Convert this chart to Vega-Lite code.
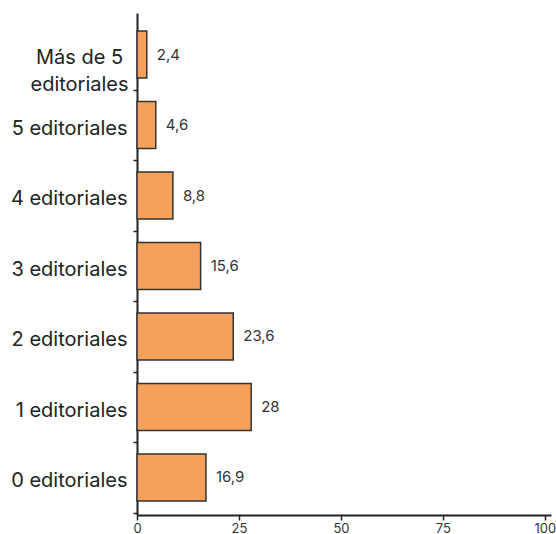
{
  "$schema": "https://vega.github.io/schema/vega-lite/v6.json",
  "autosize": "none",
  "width": 414,
  "height": 502,
  "padding": {"left": 137, "top": 13, "right": 5, "bottom": 19},
  "background": "white",
  "config": {
    "locale": {"number": {"decimal": ",", "thousands": ".", "grouping": [3], "currency": ["", "€"]}},
    "view": {"stroke": null},
    "font": "Inter"
  },
  "data": {
    "values": [
      {"cat": "Más de 5 editoriales", "value": 2.4},
      {"cat": "5 editoriales", "value": 4.6},
      {"cat": "4 editoriales", "value": 8.8},
      {"cat": "3 editoriales", "value": 15.6},
      {"cat": "2 editoriales", "value": 23.6},
      {"cat": "1 editoriales", "value": 28},
      {"cat": "0 editoriales", "value": 16.9}
    ]
  },
  "encoding": {
    "y": {
      "field": "cat",
      "type": "nominal",
      "sort": ["Más de 5 editoriales", "5 editoriales", "4 editoriales", "3 editoriales", "2 editoriales", "1 editoriales", "0 editoriales"],
      "scale": {"paddingInner": 0.333, "paddingOuter": 0.227, "align": 0.5625},
      "axis": {
        "title": null,
        "domainColor": "#222",
        "domainWidth": 2,
        "tickColor": "#222",
        "tickWidth": 1.5,
        "tickSize": 4,
        "tickOffset": 35.25,
        "labelFontSize": 20,
        "labelColor": "#222",
        "labelPadding": {"condition": {"test": "datum.value == 'Más de 5 editoriales'", "value": 54}, "value": 6},
        "labelAlign": {"condition": {"test": "datum.value == 'Más de 5 editoriales'", "value": "center"}, "value": "right"},
        "labelLineHeight": 27,
        "labelExpr": "datum.value == 'Más de 5 editoriales' ? ['Más de 5', 'editoriales'] : datum.label",
        "labelOffset": -32
      }
    },
    "x": {
      "field": "value",
      "type": "quantitative",
      "scale": {"domain": [0, 101.5], "nice": false},
      "axis": {
        "title": null,
        "values": [0, 25, 50, 75, 100],
        "grid": false,
        "domainColor": "#222",
        "domainWidth": 2,
        "tickColor": "#222",
        "tickWidth": 1.5,
        "tickSize": 5,
        "labelFontSize": 13,
        "labelColor": "#333",
        "labelPadding": 2,
        "labelFlush": false
      }
    }
  },
  "layer": [
    {
      "mark": {"type": "bar", "color": "#F5A05B", "stroke": "#333", "strokeWidth": 1.5}
    },
    {
      "mark": {"type": "text", "align": "left", "baseline": "middle", "dx": 10, "fontSize": 15, "color": "#333"},
      "encoding": {"text": {"field": "value", "type": "quantitative", "format": ".1~f"}}
    }
  ]
}
